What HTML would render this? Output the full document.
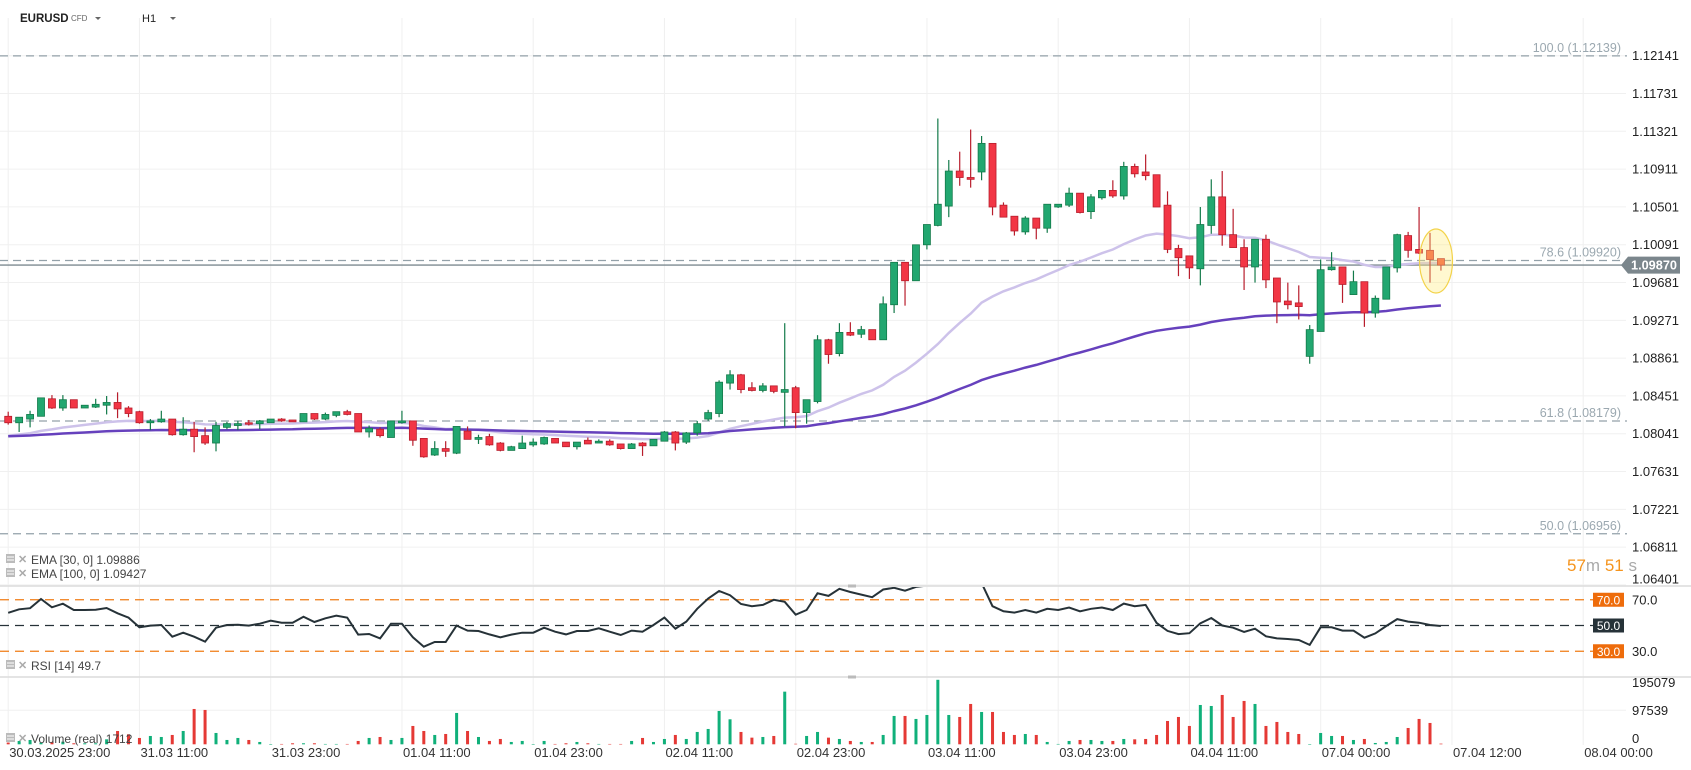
<!DOCTYPE html>
<html><head><meta charset="utf-8"><style>
html,body{margin:0;padding:0;background:#fff;}
svg{display:block;font-family:"Liberation Sans",Arial,sans-serif;}
</style></head><body>
<svg id="chart" width="1691" height="770" viewBox="0 0 1691 770" xmlns="http://www.w3.org/2000/svg">
<defs>
<clipPath id="mainClip"><rect x="0" y="18" width="1626" height="567"/></clipPath>
<clipPath id="rsiClip"><rect x="0" y="587" width="1626" height="89"/></clipPath>
</defs>
<g id="grid"></g>
<g id="fib"></g>
<g id="main" clip-path="url(#mainClip)"></g>
<g id="rsi"></g>
<g id="vol"></g>
<g id="axes"></g>
<g>
<text x="20" y="22" font-size="11.5" font-weight="bold" fill="#222">EURUSD</text>
<text x="71" y="21" font-size="8" fill="#666">CFD</text>
<path d="M95 17 L101 17 L98 20 Z" fill="#666"/>
<text x="142" y="22" font-size="11" fill="#222">H1</text>
<path d="M170 17 L176 17 L173 20 Z" fill="#666"/>
</g>
</svg>
<script>
const NS="http://www.w3.org/2000/svg";
const opens=[1.0823,1.0816,1.0820,1.0823,1.0842,1.0832,1.0841,1.0832,1.0833,1.0835,1.0838,1.0832,1.0828,1.0816,1.0817,1.0820,1.0803,1.0809,1.0802,1.0794,1.0811,1.0813,1.0816,1.0815,1.0816,1.0820,1.0819,1.0817,1.0826,1.0820,1.0824,1.0828,1.0826,1.0806,1.0809,1.0800,1.0816,1.0818,1.0799,1.0781,1.0788,1.0783,1.0807,1.0798,1.0801,1.0794,1.0786,1.0788,1.0792,1.0793,1.0799,1.0795,1.0790,1.0797,1.0794,1.0796,1.0793,1.0788,1.0794,1.0791,1.0796,1.0806,
1.0795,1.0805,
1.0820,1.0826,1.0859,1.0868,1.0854,1.0851,1.0856,1.0849,1.0854,1.0827,1.0839,1.0906,1.0891,1.0914,1.0912,1.0917,1.0906,1.0944,1.0990,1.0970,1.1009,1.1030,1.1051,1.1089,1.1082,1.1088,1.1119,1.1052,1.1040,1.1023,1.1038,1.1027,1.1050,1.1052,1.1065,1.1045,1.1060,1.1068,1.1062,1.1094,1.1088,1.1085,1.1052,1.1005,1.0997,1.0983,1.1030,1.1061,1.1020,1.1006,1.0985,1.1015,1.0973,1.0948,1.0946,1.0888,1.0915,1.0982,
1.0985,1.0955,1.0969,1.0935,1.0950,1.0984,1.1019,1.1004,1.1003,1.0994];
const highs=[1.0828,1.0822,1.0829,1.0843,1.0846,1.0846,1.0841,1.0835,1.0842,1.0845,1.0849,1.0834,1.0829,1.0820,1.0829,1.0820,1.0822,1.0817,1.0811,1.0817,1.0817,1.0818,1.0819,1.0819,1.0820,1.0821,1.0819,1.0826,1.0826,1.0827,1.0828,1.0830,1.0826,1.0813,1.0811,1.0818,1.0829,1.0818,1.0799,1.0796,1.0796,1.0812,1.0812,1.0803,1.0804,1.0795,1.0791,1.0802,1.0799,1.0801,1.0799,1.0795,1.0795,1.0800,1.0798,1.0798,1.0793,1.0794,1.0795,1.0798,1.0807,1.0807,
1.0806,1.0818,
1.0830,1.0862,1.0873,1.0869,1.0860,1.0859,1.0856,1.0924,1.0856,1.0841,1.0911,1.0907,1.0924,1.0925,1.0921,1.0917,1.0953,1.0990,1.0990,1.1009,1.1031,1.1146,1.1101,1.1110,1.1134,1.1127,1.1119,1.1055,1.1040,1.1040,1.1038,1.1053,1.1053,1.1071,1.1065,1.1064,1.1068,1.1079,1.1099,1.1097,1.1107,1.1085,1.1067,1.1009,1.0997,1.1050,1.1080,1.1089,1.1048,1.1015,1.1015,1.1020,1.0973,1.0968,1.0965,1.0922,1.0993,1.1001,
1.0985,1.0981,1.0969,1.0954,1.0985,1.1021,1.1023,1.1050,1.1022,1.0994];
const lows=[1.0814,1.0806,1.0811,1.0823,1.0831,1.0829,1.0832,1.0832,1.0832,1.0825,1.0821,1.0822,1.0815,1.0808,1.0816,1.0802,1.0802,1.0784,1.0792,1.0785,1.0809,1.0808,1.0813,1.0809,1.0816,1.0817,1.0817,1.0817,1.0819,1.0819,1.0822,1.0824,1.0806,1.0800,1.0800,1.0800,1.0815,1.0791,1.0778,1.0780,1.0779,1.0782,1.0798,1.0793,1.0791,1.0785,1.0786,1.0788,1.0790,1.0792,1.0794,1.0790,1.0787,1.0793,1.0794,1.0791,1.0787,1.0788,1.0780,1.0791,1.0796,1.0786,
1.0793,1.0802,
1.0818,1.0822,1.0852,1.0848,1.0850,1.0849,1.0848,1.0812,1.0810,1.0815,1.0837,1.0880,1.0888,1.0910,1.0908,1.0906,1.0906,1.0935,1.0943,1.0970,1.1004,1.1029,1.1039,1.1073,1.1071,1.1079,1.1041,1.1039,1.1019,1.1020,1.1015,1.1022,1.1049,1.1050,1.1043,1.1037,1.1058,1.1060,1.1058,1.1082,1.1079,1.1050,1.1000,1.0975,1.0972,1.0965,1.1021,1.1008,1.1006,1.0960,1.0968,1.0962,1.0924,1.0939,1.0928,1.0880,1.0915,1.0981,
1.0946,1.0955,1.0920,1.0930,1.0950,1.0979,1.0995,1.0999,1.0968,1.0981];
const closes=[1.0816,1.0822,1.0825,1.0843,1.0832,1.0841,1.0832,1.0835,1.0836,1.0838,1.0831,1.0826,1.0816,1.0818,1.0820,1.0803,1.0809,1.0801,1.0794,1.0813,1.0815,1.0815,1.0815,1.0818,1.0820,1.0818,1.0817,1.0826,1.0820,1.0825,1.0828,1.0825,1.0806,1.0810,1.0802,1.0818,1.0818,1.0797,1.0779,1.0788,1.0785,1.0812,1.0798,1.0800,1.0792,1.0786,1.0790,1.0794,1.0795,1.0800,1.0794,1.0790,1.0795,1.0793,1.0796,1.0792,1.0788,1.0793,1.0791,1.0798,1.0806,1.0794,
1.0805,1.0815,
1.0827,1.0860,1.0868,1.0852,1.0851,1.0856,1.0850,1.0852,1.0827,1.0841,1.0906,1.0890,1.0914,1.0911,1.0917,1.0906,1.0945,1.0990,1.0970,1.1009,1.1031,1.1053,1.1089,1.1082,1.1080,1.1119,1.1050,1.1039,1.1024,1.1038,1.1027,1.1053,1.1053,1.1065,1.1044,1.1061,1.1068,1.1062,1.1094,1.1086,1.1084,1.1050,1.1004,1.0995,1.0984,1.1031,1.1061,1.1020,1.1006,1.0985,1.1015,1.0971,1.0947,1.0944,1.0942,1.0917,1.0982,1.0985,
1.0966,1.0969,1.0935,1.0951,1.0985,1.1020,1.1003,1.1000,1.0993,1.0987];
const rsiValues=[59.9,62.6,63.4,70.6,64.1,66.9,62,62,62.3,63.6,59.5,56.1,48.6,49.9,50.4,41.3,44.4,41.3,37.4,48.3,50.4,50.6,49.9,51.4,53.7,52.2,52.2,56.8,52.7,55.6,57.6,56.1,42.9,43.4,40,51.4,51.4,40.8,33.5,37.2,37.2,49.9,46,45.7,43.1,40.8,42.9,44.4,44.4,48.3,45.2,43.1,45.7,45.7,47.8,45.2,42.6,46,45.2,50.4,56.1,47.5,53,63,
71,76.8,73.5,66.7,65,66,70,68.4,58.4,62,75,73,78.5,76,74,72,78,79.3,77,80,81,84,83,82,82,83,65,61,60,62,60,63,62,64,61,63,64,62,67,65,66,52,45.8,43.3,44,51.7,55.8,50,48.3,45,47.5,41.6,
40,39.5,38.7,34.9,48.6,48.6,46,46,40.5,43.9,49.6,55,53,52.2,50.4,49.6];
const volumes=[5000,9560,12400,4800,6700,7600,2900,2900,2900,14300,38200,28700,18200,23900,21000,26800,38200,101300,98500,32500,12400,18200,12400,6700,500,1000,2900,2900,2900,1000,1000,1000,9600,18200,21000,12400,18200,52600,38200,26800,29600,89900,38200,21000,9600,15300,6700,9600,500,9600,1000,2900,6700,2900,1000,1000,1000,9600,18200,6700,15300,26800,15300,35400,44000,95600,
71700,35400,19100,21000,23900,151000,1500,23900,35400,19100,15300,9600,6700,6700,26800,81300,81300,72700,84100,185000,84100,78400,115700,92700,92700,35400,26800,29600,26800,6700,1000,9600,12400,12400,9600,9600,15300,14300,15300,26800,66900,78400,52600,112800,109900,141500,78400,124300,115700,52600,64100,35400,29600,500,32500,23900,23900,12400,15300,3800,6700,21000,46800,72700,61200,1900];
const priceTicks=[1.12141,1.11731,1.11321,1.10911,1.10501,1.10091,1.09681,1.09271,1.08861,1.08451,1.08041,1.07631,1.07221,1.06811,1.06401];
const fibLevels=[100.0,78.6,61.8,50.0];
const fibPrices=[1.12139,1.09920,1.08179,1.06956];
const timeLabels=["30.03.2025  23:00","31.03  11:00","31.03  23:00","01.04  11:00","01.04  23:00","02.04  11:00","02.04  23:00","03.04  11:00","03.04  23:00","04.04  11:00","07.04  00:00","07.04  12:00","08.04  00:00"];
const rsiLevels=[70,50,30];
const volTicks=[195079,97539,0];
const lastPrice=1.09870;
const emaSeed30=1.0801, emaSeed100=1.0801;

const xOf=i=>8.2+i*10.937;
const yP=p=>55.7+(1.12141-p)*9220;
const yR=v=>625.5-(v-50)*1.2875;
const yV=v=>744.3-v/2868;

function mk(tag,attrs,parent){const e=document.createElementNS(NS,tag);for(const k in attrs)e.setAttribute(k,attrs[k]);parent.appendChild(e);return e;}
const grid=document.getElementById('grid'),fib=document.getElementById('fib'),main=document.getElementById('main'),rsi=document.getElementById('rsi'),vol=document.getElementById('vol'),axes=document.getElementById('axes');

priceTicks.forEach((p,i)=>{
 const y=yP(p);
 const l=mk('line',{x1:0,x2:1626,y1:y,y2:y,stroke:'#f0f0f0','stroke-width':1},grid);
 
 
 const t=mk('text',{x:1632,y:Math.min(y,579)+4.5,'font-size':13,fill:'#222'},axes);
 t.textContent=p.toFixed(5);
 
 
});
timeLabels.forEach((s,i)=>{
 const x=8.2+i*131.25;
 const l=mk('line',{x1:x,x2:x,y1:18,y2:745,stroke:'#f0f0f0','stroke-width':1},grid);
 
 
 const t=mk('text',{x:x+1,y:757,'font-size':13,fill:'#333','xml:space':'preserve'},axes);
 t.textContent=s;
 
 
});
[586,677].forEach(y=>{const l=mk('line',{x1:0,x2:1691,y1:y,y2:y,stroke:'#dcdcdc','stroke-width':1.5},grid);
 
 });
const h1=mk('rect',{x:848,y:675.5,width:8,height:3,fill:'#bbb'},grid);


const h2=mk('rect',{x:848,y:584.5,width:8,height:3,fill:'#bbb'},grid);


const vg=mk('line',{x1:0,x2:1626,y1:yV(97539),y2:yV(97539),stroke:'#f0f0f0'},grid);



fibLevels.forEach((lv,i)=>{
 const y=yP(fibPrices[i]);
 const l=mk('line',{x1:0,x2:1627,y1:y,y2:y,stroke:'#93a1a9','stroke-width':1.2,'stroke-dasharray':'8 5'},fib);
 
 
 const t=mk('text',{x:1621,y:y-4,'font-size':12.5,fill:'#9ba8b0','text-anchor':'end'},fib);
 t.textContent=lv.toFixed(1)+' ('+fibPrices[i].toFixed(5)+')';
 
 
});

function ema(n,seed){let e=seed;const a=2/(n+1);return closes.map(c=>(e=e+a*(c-e)));}
const e30=ema(30,emaSeed30),e100=ema(100,emaSeed100);
const pl=arr=>arr.map((v,i)=>xOf(i).toFixed(1)+','+yP(v).toFixed(1)).join(' ');
const em30=mk('polyline',{points:pl(e30),fill:'none',stroke:'#cdc2ea','stroke-width':2.5},main);


const em100=mk('polyline',{points:pl(e100),fill:'none',stroke:'#6641bd','stroke-width':2.5},main);



const cp=mk('line',{x1:0,x2:1622,y1:yP(lastPrice),y2:yP(lastPrice),stroke:'#7d8a90','stroke-width':1.3},fib);



opens.forEach((o,i)=>{
 const c=closes[i],up=c>=o,x=xOf(i);
 const g=mk('g',{},main);
 
 
 const last=i>=opens.length-2;
 const fill=up?'#22a770':(last?'#f4553d':'#f23645'),st=up?'#137a4a':'#b81d2c';
 mk('line',{x1:x,x2:x,y1:yP(highs[i]),y2:yP(lows[i]),stroke:st,'stroke-width':1.2},g);
 const t=yP(Math.max(o,c)),b=yP(Math.min(o,c));
 mk('rect',{x:x-3.5,y:t,width:7,height:Math.max(b-t,1.5),fill:fill,stroke:st,'stroke-width':0.8},g);
});
const hl=mk('ellipse',{cx:1436,cy:261,rx:16.5,ry:32,fill:'rgba(255,236,120,0.35)',stroke:'#f3d34a','stroke-width':1.2},main);



const ly=yP(lastPrice);
const tag=mk('path',{d:`M1621 ${ly} L1628 ${ly-8.5} L1680 ${ly-8.5} L1680 ${ly+8.5} L1628 ${ly+8.5} Z`,fill:'#7b868c'},axes);


const tt=mk('text',{x:1631,y:ly+4.5,'font-size':13,'font-weight':'bold',fill:'#fff',textLength:46,lengthAdjust:'spacingAndGlyphs'},axes);
tt.textContent=lastPrice.toFixed(5);



const tm=mk('text',{x:1567,y:571,'font-size':17},axes);
tm.innerHTML='<tspan fill="#f5941d">57</tspan><tspan fill="#aaa">m </tspan><tspan fill="#f5941d">51</tspan><tspan fill="#aaa"> s</tspan>';



rsiLevels.forEach(v=>{
 const y=yR(v),isMid=v===50,col=isMid?'#263238':'#f07c16';
 const l=mk('line',{x1:0,x2:1593,y1:y,y2:y,stroke:col,'stroke-width':1.3,'stroke-dasharray':'9 6'},rsi);
 
 
 const r=mk('rect',{x:1593,y:y-7,width:31,height:14,fill:isMid?'#263238':'#ee6c0b'},rsi);
 
 
 const t=mk('text',{x:1608.5,y:y+4.5,'font-size':12,fill:'#fff','text-anchor':'middle'},rsi);
 t.textContent=v.toFixed(1);
 
 
 if(!isMid){const a=mk('text',{x:1632,y:y+4.5,'font-size':13,fill:'#222'},axes);a.textContent=v.toFixed(1);
 
 }
});
const rl=mk('polyline',{points:rsiValues.map((v,i)=>xOf(i).toFixed(1)+','+yR(v).toFixed(1)).join(' '),fill:'none',stroke:'#263238','stroke-width':2,'clip-path':'url(#rsiClip)'},rsi);



volumes.forEach((v,i)=>{
 const up=closes[i]>=opens[i];
 const y=yV(v);
 const r=mk('rect',{x:xOf(i)-1.5,y:y,width:3,height:Math.max(744.3-y,0.5),fill:up?'#10b07a':'#e53935'},vol);
 
 
});
const vpos=[687,715,743];
volTicks.forEach((v,i)=>{const t=mk('text',{x:1632,y:vpos[i],'font-size':13,fill:'#222'},axes);t.textContent=String(v);
 
 });

function legend(y,txt,name){
 const g=mk('g',{},axes);
 
 
 mk('rect',{x:6,y:y-9,width:9,height:9,fill:'#bbb'},g);
 mk('line',{x1:7,x2:14,y1:y-6,y2:y-6,stroke:'#fff','stroke-width':1},g);
 mk('line',{x1:7,x2:14,y1:y-3,y2:y-3,stroke:'#fff','stroke-width':1},g);
 const x=mk('text',{x:18,y:y,'font-size':11,fill:'#aaa','font-weight':'bold'},g);x.textContent='✕';
 const t=mk('text',{x:31,y:y+1,'font-size':12,fill:'#444','xml:space':'preserve'},g);t.textContent=txt;
}
legend(563,'EMA  [30,  0] 1.09886','ema-30-legend');
legend(577,'EMA  [100,  0] 1.09427','ema-100-legend');
legend(669,'RSI  [14] 49.7','rsi-legend');
legend(742,'Volume  (real)  1712','volume-legend');
</script>
</body></html>
